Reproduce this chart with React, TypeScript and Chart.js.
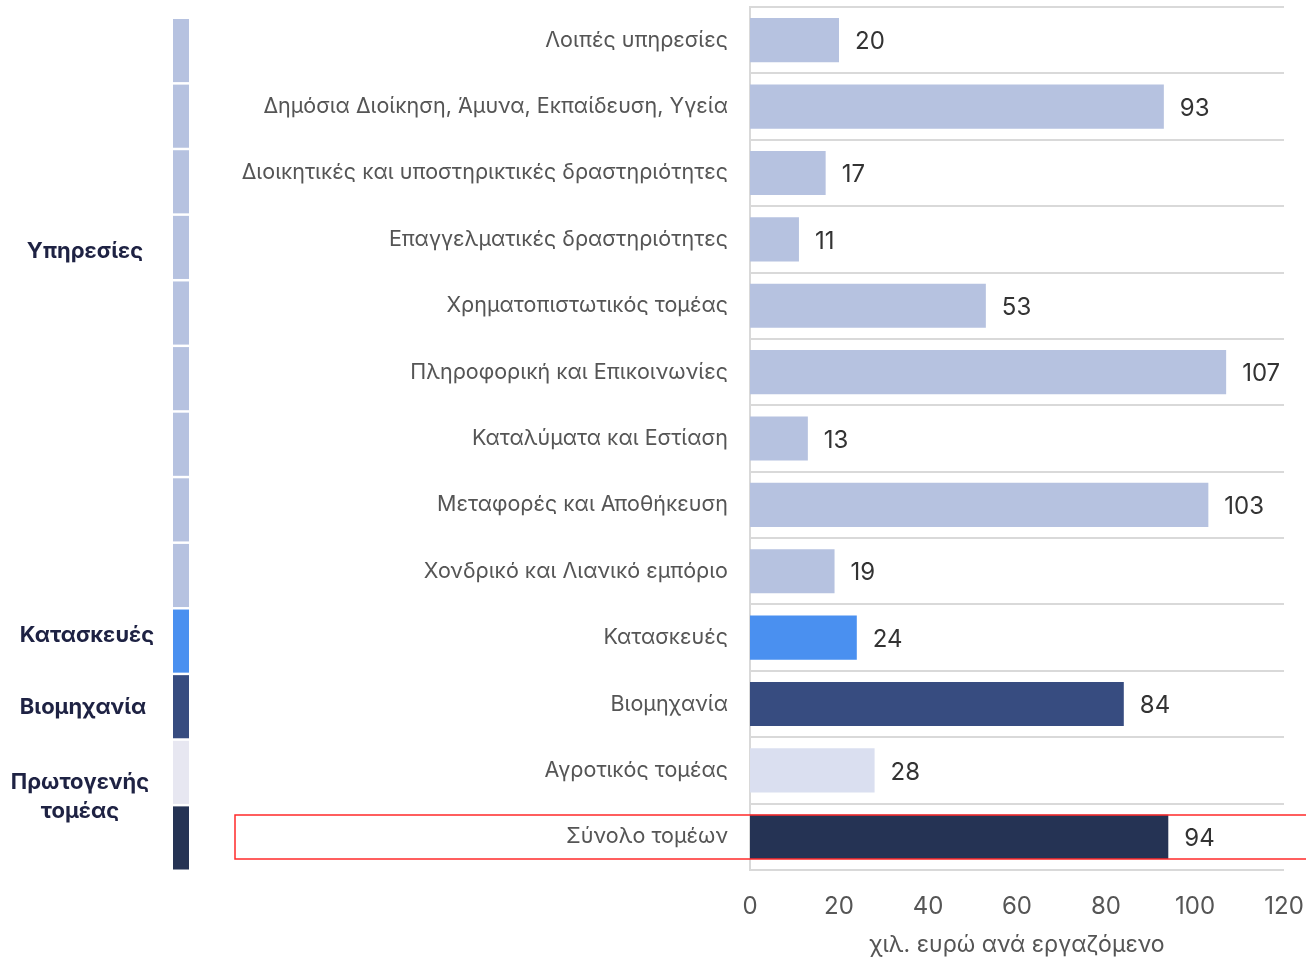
import React, { useEffect, useRef } from "react";
import { Chart, registerables } from "chart.js";

Chart.register(...registerables);

const categories = [
  "Λοιπές υπηρεσίες",
  "Δημόσια Διοίκηση, Άμυνα, Εκπαίδευση, Υγεία",
  "Διοικητικές και υποστηρικτικές δραστηριότητες",
  "Επαγγελματικές δραστηριότητες",
  "Χρηματοπιστωτικός τομέας",
  "Πληροφορική και Επικοινωνίες",
  "Καταλύματα και Εστίαση",
  "Μεταφορές και Αποθήκευση",
  "Χονδρικό και Λιανικό εμπόριο",
  "Κατασκευές",
  "Βιομηχανία",
  "Αγροτικός τομέας",
  "Σύνολο τομέων",
];

const values = [20, 93, 17, 11, 53, 107, 13, 103, 19, 24, 84, 28, 94];

const SERV = "#b6c2e0";
const barColors = [SERV, SERV, SERV, SERV, SERV, SERV, SERV, SERV, SERV, "#4a90f0", "#374c80", "#dadff0", "#253354"];
const stripColors = [SERV, SERV, SERV, SERV, SERV, SERV, SERV, SERV, SERV, "#4a90f0", "#374c80", "#e7e7f1", "#253354"];

const groupLabels: { lines: string[]; x: number; y: number }[] = [
  { lines: ["Υπηρεσίες"], x: 85, y: 251 },
  { lines: ["Κατασκευές"], x: 87, y: 635 },
  { lines: ["Βιομηχανία"], x: 83, y: 707 },
  { lines: ["Πρωτογενής", "τομέας"], x: 80, y: 782 },
];

const xTicks = [0, 20, 40, 60, 80, 100, 120];
const highlightIndex = 12;

const FONT = "Inter";

const decorPlugin = {
  id: "decor",
  afterDatasetsDraw(chart: any) {
    const { ctx, chartArea } = chart;
    const meta = chart.getDatasetMeta(0);
    ctx.save();
    // value labels
    ctx.font = `24px ${FONT}`;
    ctx.fillStyle = "#333333";
    ctx.textAlign = "left";
    ctx.textBaseline = "middle";
    meta.data.forEach((bar: any, i: number) => {
      ctx.fillText(String(values[i]), bar.x + 16, bar.y + 2);
    });
    // left strips
    const top = chartArea.top + 12;
    const bottom = chartArea.bottom + 2;
    const n = categories.length;
    const pitch = (bottom - top) / n;
    stripColors.forEach((c, i) => {
      ctx.fillStyle = c;
      ctx.fillRect(173, top + i * pitch, 16, pitch - 2.5);
    });
    // group labels
    ctx.font = `bold 22px ${FONT}`;
    ctx.fillStyle = "#1e2243";
    ctx.textAlign = "center";
    groupLabels.forEach((g) => {
      g.lines.forEach((l, k) => {
        ctx.fillText(l, g.x, g.y + k * 29);
      });
    });
    // highlight rectangle
    const hb: any = meta.data[highlightIndex];
    const h = hb.height;
    ctx.strokeStyle = "#ff2a2a";
    ctx.lineWidth = 1.5;
    ctx.strokeRect(235, Math.round(hb.y - h / 2), chart.width, Math.round(h));
    ctx.restore();
  },
};

export default function App() {
  const ref = useRef<HTMLCanvasElement>(null);
  useEffect(() => {
    if (!ref.current) return;
    const chart = new Chart(ref.current, {
      type: "bar",
      data: {
        labels: categories,
        datasets: [
          {
            data: values,
            backgroundColor: barColors,
            barPercentage: 0.665,
            categoryPercentage: 1,
          },
        ],
      },
      plugins: [decorPlugin],
      options: {
        indexAxis: "y",
        animation: false,
        responsive: true,
        maintainAspectRatio: false,
        layout: { padding: { top: 7, right: 22, left: 0, bottom: 0 } },
        plugins: { legend: { display: false }, tooltip: { enabled: false } },
        scales: {
          x: {
            min: 0,
            max: 120,
            afterBuildTicks: (s: any) => {
              s.ticks = xTicks.map((v) => ({ value: v }));
            },
            afterFit: (s: any) => {
              s.height = 89;
              s.paddingLeft = 0;
              s.paddingRight = 0;
            },
            grid: { display: false, drawTicks: false },
            border: { display: false },
            ticks: { font: { family: FONT, size: 24 }, color: "#555555", padding: 22 },
            title: {
              display: true,
              text: "χιλ. ευρώ ανά εργαζόμενο",
              font: { family: FONT, size: 23 },
              color: "#555555",
              padding: 0,
            },
          },
          y: {
            afterFit: (s: any) => {
              s.width = 750;
              s.paddingTop = 0;
              s.paddingBottom = 0;
            },
            grid: { color: "#d9d9d9", lineWidth: 2, drawTicks: false, offset: true },
            border: { display: true, color: "#d9d9d9", width: 2 },
            ticks: { font: { family: FONT, size: 21.5 }, color: "#555555", padding: 22 },
          },
        },
      },
    });
    return () => chart.destroy();
  }, []);
  return (
    <div style={{ position: "absolute", left: 0, top: 0, width: 1306, height: 959, background: "#fff" }}>
      <canvas ref={ref} />
    </div>
  );
}
